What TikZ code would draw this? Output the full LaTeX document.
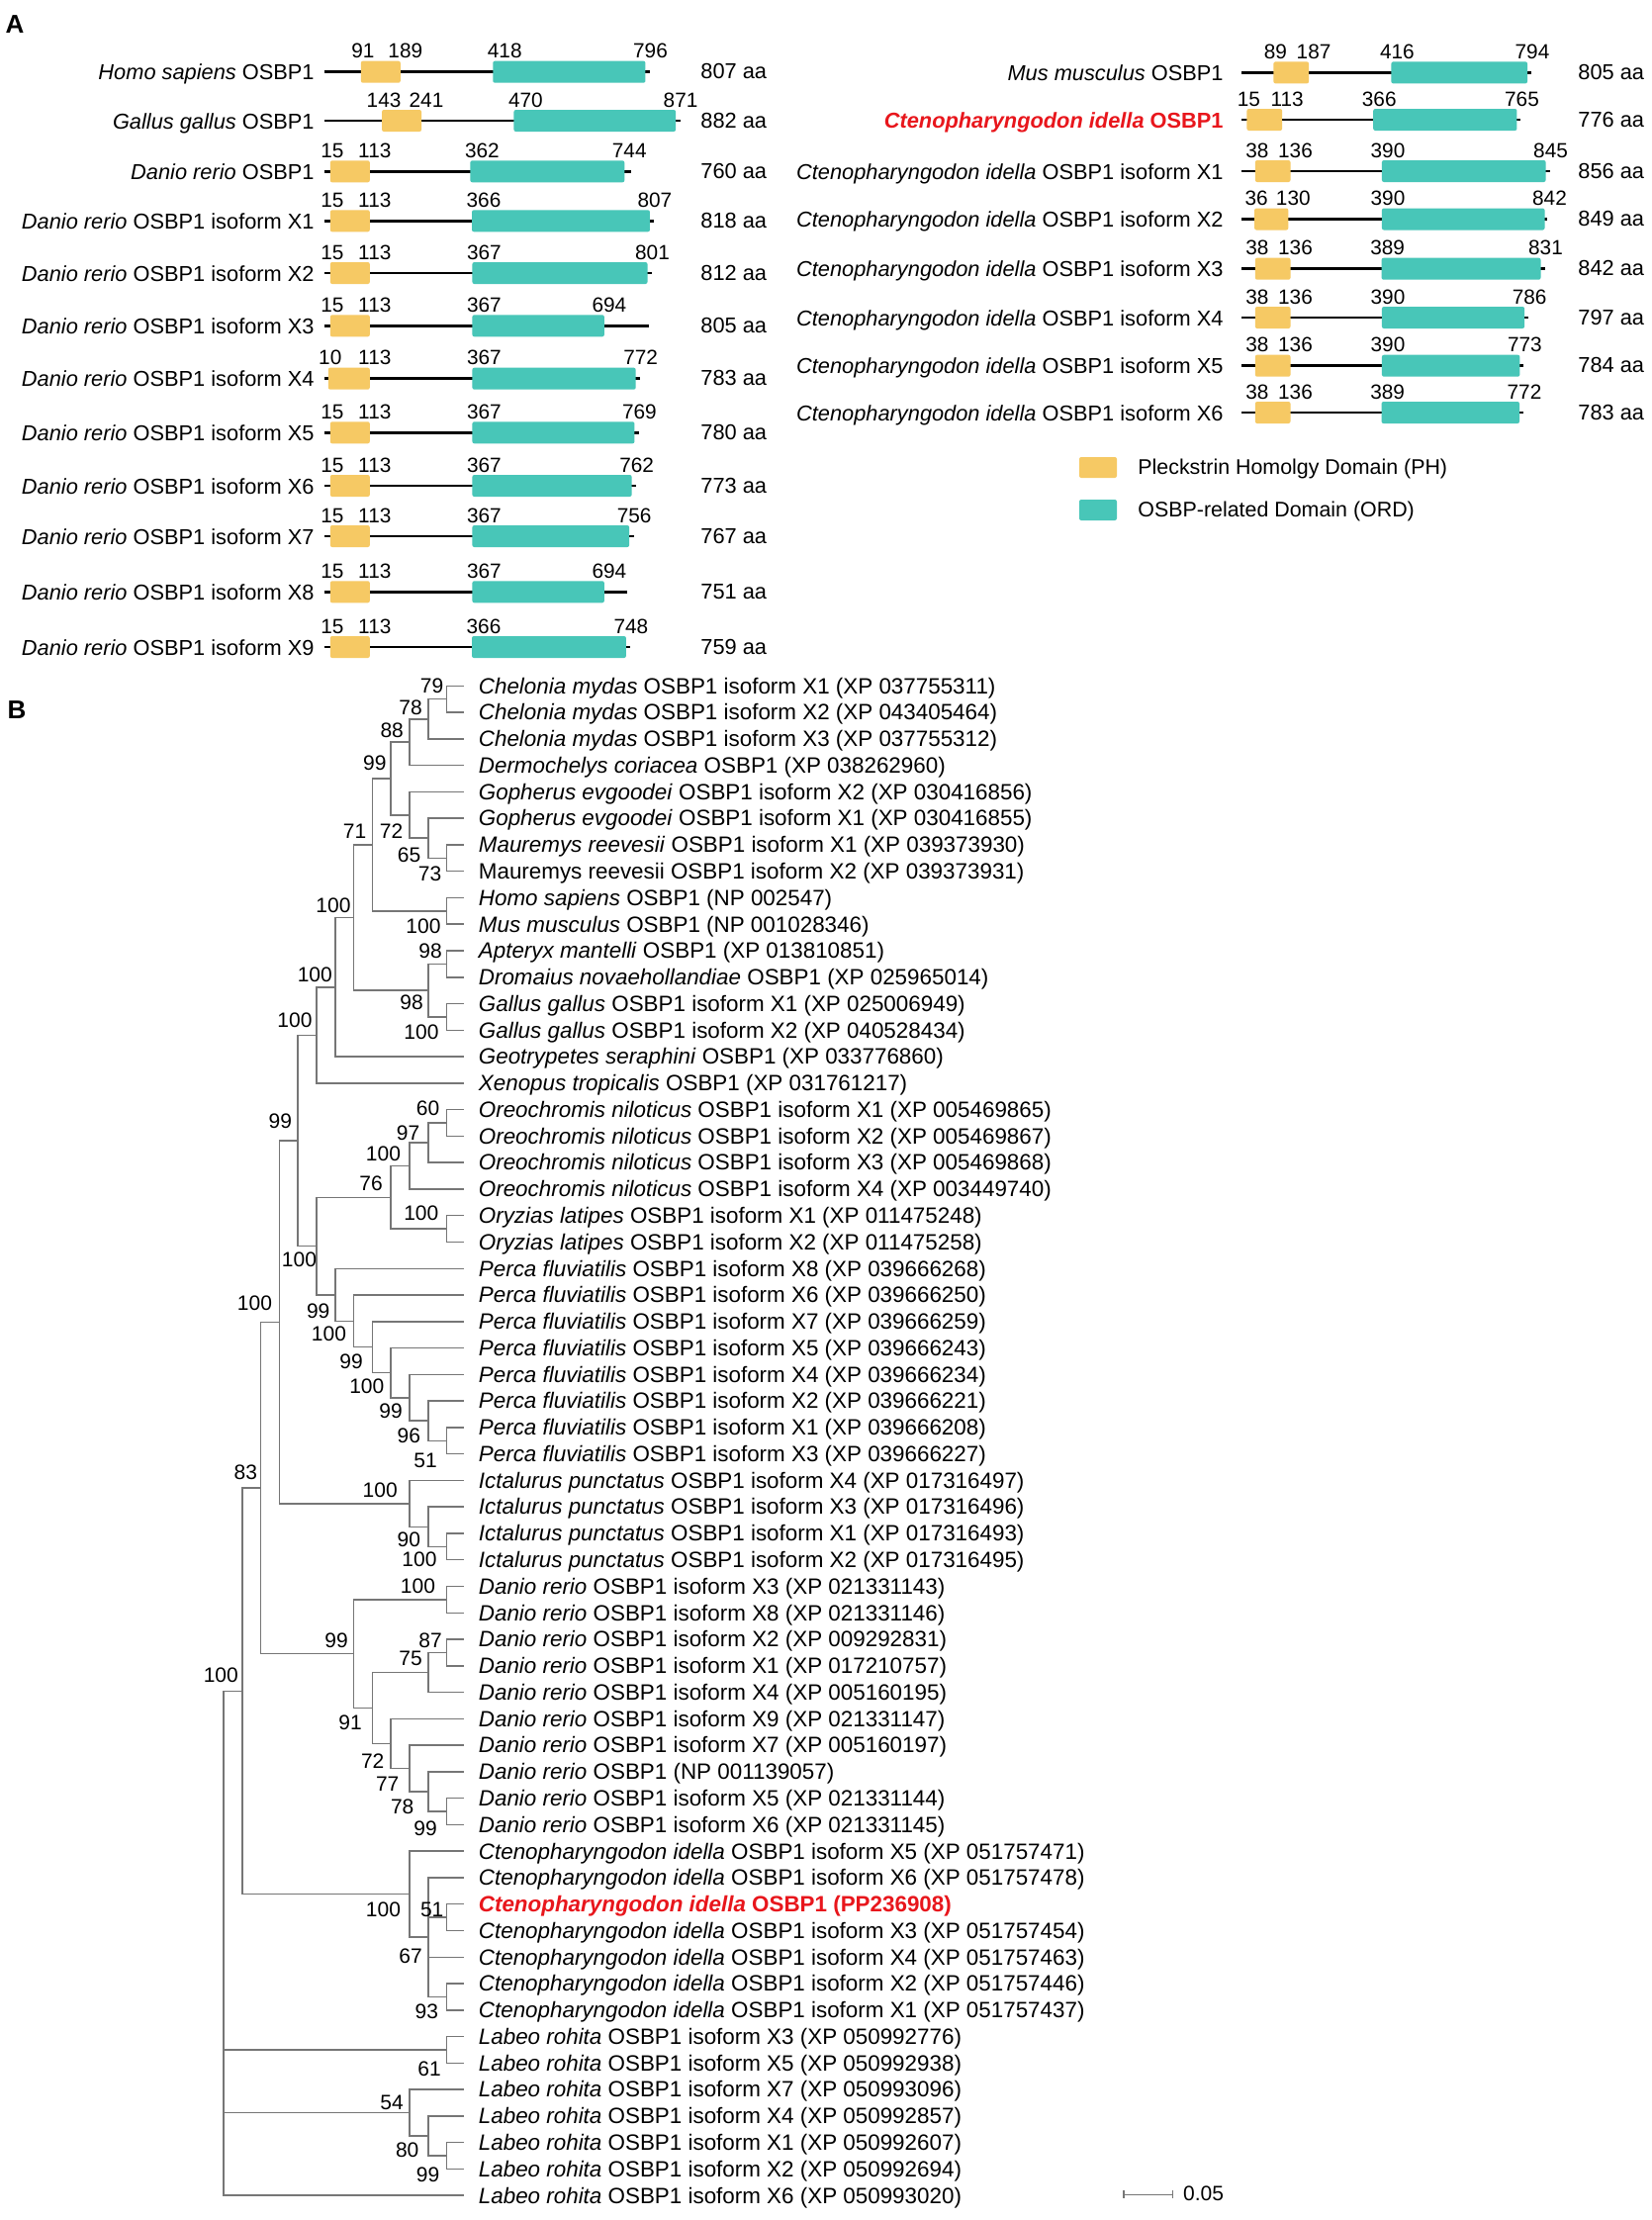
\documentclass[tikz,border=0pt]{standalone}
\usepackage{fontspec}
\setmainfont{Liberation Sans}
\usetikzlibrary{calc}
\definecolor{phc}{RGB}{246,201,100}
\definecolor{ordc}{RGB}{72,198,184}
\definecolor{hl}{RGB}{232,22,28}
\definecolor{brc}{RGB}{118,118,118}
\tikzset{
 prot/.style={line width=1.3pt, black},
 phbox/.style={fill=phc, rounded corners=1pt, minimum height=11pt, inner sep=0pt, outer sep=0pt},
 ordbox/.style={fill=ordc, rounded corners=1pt, minimum height=11pt, inner sep=0pt, outer sep=0pt},
 num/.style={font=\fontsize{10.4}{12}\selectfont, anchor=base, inner sep=0pt},
 alen/.style={font=\fontsize{10.9}{13}\selectfont, anchor=base west, inner sep=0pt},
 aname/.style={font=\fontsize{10.9}{13}\selectfont, anchor=base east, inner sep=0pt},
 br/.style={draw=brc, line width=0.75pt},
 leaf/.style={font=\fontsize{11.2}{13}\selectfont, anchor=base west, inner sep=0pt},
 bs/.style={font=\fontsize{10.5}{12}\selectfont, inner sep=0pt},
 panel/.style={font=\fontsize{13}{15}\selectfont\bfseries, inner sep=0pt},
 legtxt/.style={font=\fontsize{10.7}{13}\selectfont, anchor=base west, inner sep=0pt},
}
% domain row: id, y, ph1, ph2, ord1, ord2, len, name
\newcommand\drow[8]{%
 \pgfmathsetmacro\dXa{\colxo+#3*\colsc}%
 \pgfmathsetmacro\dXb{\colxo+#4*\colsc}%
 \pgfmathsetmacro\dXc{\colxo+#5*\colsc}%
 \pgfmathsetmacro\dXd{\colxo+#6*\colsc}%
 \pgfmathsetmacro\dXe{\colxo+#7*\colsc}%
 \pgfmathsetmacro\dWa{(\dXb-\dXa)*0.5}%
 \pgfmathsetmacro\dWb{(\dXd-\dXc)*0.5}%
 \coordinate (#1s) at (\colxo,#2);
 \coordinate (#1e) at (\dXe,#2);
 \draw[prot] (#1s) -- (#1e);
 \node[phbox, minimum width=\dWa pt] (#1ph) at ({(\dXa+\dXb)/2},#2) {};
 \node[ordbox, minimum width=\dWb pt] (#1ord) at ({(\dXc+\dXd)/2},#2) {};
 \node[num] (#1na) at (\dXa+2,#2-14) {#3};
 \node[num] (#1nb) at (\dXb+5,#2-14) {#4};
 \node[num] (#1nc) at (\dXc+\colos,#2-14) {#5};
 \node[num] (#1nd) at (\dXd+5,#2-14) {#6};
 \node[alen] (#1len) at (\collx,#2+7) {#7 aa};
 \node[aname] (#1nm) at (\colnx,#2+8) {#8};
}
% tree node: name, level, first child, last child
\newcommand\tnode[4]{%
 \path (#3) -- (#4) coordinate[pos=.5] (m#1);
 \coordinate (#1) at (m#1 -| X#2);
 \draw[br] (#3) -| (#1) |- (#4);
}
\begin{document}
\begin{tikzpicture}[x=0.5pt,y=-0.5pt]
\useasboundingbox (0,0) rectangle (1670,2244);
\fill[white] (0,0) rectangle (1670,2244);
\node[panel] (pA) at (15,25) {A};
\node[panel] (pB) at (17,718) {B};
% ---- left column
\def\colxo{327.7}\def\colsc{0.408}\def\colos{12}\def\collx{708}\def\colnx{318}
\drow{a1}{72.7}{91}{189}{418}{796}{807}{\textit{Homo sapiens} OSBP1}
\drow{a2}{122}{143}{241}{470}{871}{882}{\textit{Gallus gallus} OSBP1}
\drow{a3}{173.3}{15}{113}{362}{744}{760}{\textit{Danio rerio} OSBP1}
\drow{a4}{223.3}{15}{113}{366}{807}{818}{\textit{Danio rerio} OSBP1 isoform X1}
\drow{a5}{276}{15}{113}{367}{801}{812}{\textit{Danio rerio} OSBP1 isoform X2}
\drow{a6}{329.3}{15}{113}{367}{694}{805}{\textit{Danio rerio} OSBP1 isoform X3}
\drow{a7}{382.7}{10}{113}{367}{772}{783}{\textit{Danio rerio} OSBP1 isoform X4}
\drow{a8}{437.3}{15}{113}{367}{769}{780}{\textit{Danio rerio} OSBP1 isoform X5}
\drow{a9}{491}{15}{113}{367}{762}{773}{\textit{Danio rerio} OSBP1 isoform X6}
\drow{a10}{542}{15}{113}{367}{756}{767}{\textit{Danio rerio} OSBP1 isoform X7}
\drow{a11}{598.3}{15}{113}{367}{694}{751}{\textit{Danio rerio} OSBP1 isoform X8}
\drow{a12}{654}{15}{113}{366}{748}{759}{\textit{Danio rerio} OSBP1 isoform X9}
% ---- right column
\def\colxo{1255}\def\colsc{0.364}\def\colos{6}\def\collx{1595}\def\colnx{1237}
\drow{r1}{73.4}{89}{187}{416}{794}{805}{\textit{Mus musculus} OSBP1}
\drow{r2}{121}{15}{113}{366}{765}{776}{\textcolor{hl}{\bfseries\textit{Ctenopharyngodon idella} OSBP1}}
\drow{r3}{173}{38}{136}{390}{845}{856}{\textit{Ctenopharyngodon idella} OSBP1 isoform X1}
\drow{r4}{221.5}{36}{130}{390}{842}{849}{\textit{Ctenopharyngodon idella} OSBP1 isoform X2}
\drow{r5}{271.7}{38}{136}{389}{831}{842}{\textit{Ctenopharyngodon idella} OSBP1 isoform X3}
\drow{r6}{321}{38}{136}{390}{786}{797}{\textit{Ctenopharyngodon idella} OSBP1 isoform X4}
\drow{r7}{369.7}{38}{136}{390}{773}{784}{\textit{Ctenopharyngodon idella} OSBP1 isoform X5}
\drow{r8}{417}{38}{136}{389}{772}{783}{\textit{Ctenopharyngodon idella} OSBP1 isoform X6}
% legend
\node[phbox, minimum width=19pt, minimum height=10.5pt] (legph) at (1110,472.5) {};
\node[legtxt] (legpht) at (1150,479) {Pleckstrin Homolgy Domain (PH)};
\node[ordbox, minimum width=19pt, minimum height=10.5pt] (legord) at (1110,515.5) {};
\node[legtxt] (legordt) at (1150,522) {OSBP-related Domain (ORD)};
% ---- tree
\foreach \k in {0,...,12} {\coordinate (X\k) at ({226+18.8*\k},0);}
\foreach \i in {1,...,58} {\coordinate (L\i) at (469,{693.3+(\i-1)*26.77});}
\tnode{n79}{12}{L1}{L2}
\tnode{n78}{11}{n79}{L3}
\tnode{n88}{10}{n78}{L4}
\tnode{n73}{12}{L7}{L8}
\tnode{n65}{11}{L6}{n73}
\tnode{n72}{10}{L5}{n65}
\tnode{n99a}{9}{n88}{n72}
\tnode{nMam}{12}{L9}{L10}
\tnode{n71}{8}{n99a}{nMam}
\tnode{nAD}{12}{L11}{L12}
\tnode{nGg}{12}{L13}{L14}
\tnode{nBird}{11}{nAD}{nGg}
\tnode{n358}{7}{n71}{nBird}
\tnode{nG}{6}{n358}{L15}
\tnode{nX}{5}{nG}{L16}
\tnode{o60}{12}{L17}{L18}
\tnode{o97}{11}{o60}{L19}
\tnode{o100}{10}{o97}{L20}
\tnode{oOry}{12}{L21}{L22}
\tnode{n76}{9}{o100}{oOry}
\tnode{p51}{12}{L29}{L30}
\tnode{p96}{11}{L28}{p51}
\tnode{p99}{10}{L27}{p96}
\tnode{p100}{9}{L26}{p99}
\tnode{p99b}{8}{L25}{p100}
\tnode{p100b}{7}{L24}{p99b}
\tnode{p99c}{6}{L23}{p100b}
\tnode{f100}{5}{n76}{p99c}
\tnode{n99}{4}{nX}{f100}
\tnode{i100}{12}{L33}{L34}
\tnode{i90}{11}{L32}{i100}
\tnode{i100b}{10}{L31}{i90}
\tnode{nA}{3}{n99}{i100b}
\tnode{d100}{12}{L35}{L36}
\tnode{d87}{12}{L37}{L38}
\tnode{d75}{11}{d87}{L39}
\tnode{d99b}{12}{L43}{L44}
\tnode{d78}{11}{L42}{d99b}
\tnode{d77}{10}{L41}{d78}
\tnode{d72}{9}{L40}{d77}
\tnode{d91}{8}{d75}{d72}
\tnode{d99}{7}{d100}{d91}
\tnode{n83}{2}{nA}{d99}
\tnode{c51}{12}{L47}{L48}
\tnode{c93}{12}{L50}{L51}
\tnode{c67}{11}{L46}{c93}
\draw[br] (c51) -| (c67);
\draw[br] (L49) -| (c67);
\tnode{c100}{10}{L45}{c67}
\tnode{nR1}{1}{n83}{c100}
\tnode{l61}{12}{L52}{L53}
\tnode{l99}{12}{L56}{L57}
\tnode{l80}{11}{L55}{l99}
\tnode{l54}{10}{L54}{l80}
\tnode{root}{0}{nR1}{L58}
\draw[br] (l61) -| (root);
\draw[br] (l54) -| (root);
% leaf labels
\foreach \li/\lsp/\lrt in {
1/Chelonia mydas/OSBP1 isoform X1 (XP 037755311),
2/Chelonia mydas/OSBP1 isoform X2 (XP 043405464),
3/Chelonia mydas/OSBP1 isoform X3 (XP 037755312),
4/Dermochelys coriacea/OSBP1 (XP 038262960),
5/Gopherus evgoodei/OSBP1 isoform X2 (XP 030416856),
6/Gopherus evgoodei/OSBP1 isoform X1 (XP 030416855),
7/Mauremys reevesii/OSBP1 isoform X1 (XP 039373930),
8/\upshape Mauremys reevesii/OSBP1 isoform X2 (XP 039373931),
9/Homo sapiens/OSBP1 (NP 002547),
10/Mus musculus/OSBP1 (NP 001028346),
11/Apteryx mantelli/OSBP1 (XP 013810851),
12/Dromaius novaehollandiae/OSBP1 (XP 025965014),
13/Gallus gallus/OSBP1 isoform X1 (XP 025006949),
14/Gallus gallus/OSBP1 isoform X2 (XP 040528434),
15/Geotrypetes seraphini/OSBP1 (XP 033776860),
16/Xenopus tropicalis/OSBP1 (XP 031761217),
17/Oreochromis niloticus/OSBP1 isoform X1 (XP 005469865),
18/Oreochromis niloticus/OSBP1 isoform X2 (XP 005469867),
19/Oreochromis niloticus/OSBP1 isoform X3 (XP 005469868),
20/Oreochromis niloticus/OSBP1 isoform X4 (XP 003449740),
21/Oryzias latipes/OSBP1 isoform X1 (XP 011475248),
22/Oryzias latipes/OSBP1 isoform X2 (XP 011475258),
23/Perca fluviatilis/OSBP1 isoform X8 (XP 039666268),
24/Perca fluviatilis/OSBP1 isoform X6 (XP 039666250),
25/Perca fluviatilis/OSBP1 isoform X7 (XP 039666259),
26/Perca fluviatilis/OSBP1 isoform X5 (XP 039666243),
27/Perca fluviatilis/OSBP1 isoform X4 (XP 039666234),
28/Perca fluviatilis/OSBP1 isoform X2 (XP 039666221),
29/Perca fluviatilis/OSBP1 isoform X1 (XP 039666208),
30/Perca fluviatilis/OSBP1 isoform X3 (XP 039666227),
31/Ictalurus punctatus/OSBP1 isoform X4 (XP 017316497),
32/Ictalurus punctatus/OSBP1 isoform X3 (XP 017316496),
33/Ictalurus punctatus/OSBP1 isoform X1 (XP 017316493),
34/Ictalurus punctatus/OSBP1 isoform X2 (XP 017316495),
35/Danio rerio/OSBP1 isoform X3 (XP 021331143),
36/Danio rerio/OSBP1 isoform X8 (XP 021331146),
37/Danio rerio/OSBP1 isoform X2 (XP 009292831),
38/Danio rerio/OSBP1 isoform X1 (XP 017210757),
39/Danio rerio/OSBP1 isoform X4 (XP 005160195),
40/Danio rerio/OSBP1 isoform X9 (XP 021331147),
41/Danio rerio/OSBP1 isoform X7 (XP 005160197),
42/Danio rerio/OSBP1 (NP 001139057),
43/Danio rerio/OSBP1 isoform X5 (XP 021331144),
44/Danio rerio/OSBP1 isoform X6 (XP 021331145),
45/Ctenopharyngodon idella/OSBP1 isoform X5 (XP 051757471),
46/Ctenopharyngodon idella/OSBP1 isoform X6 (XP 051757478),
48/Ctenopharyngodon idella/OSBP1 isoform X3 (XP 051757454),
49/Ctenopharyngodon idella/OSBP1 isoform X4 (XP 051757463),
50/Ctenopharyngodon idella/OSBP1 isoform X2 (XP 051757446),
51/Ctenopharyngodon idella/OSBP1 isoform X1 (XP 051757437),
52/Labeo rohita/OSBP1 isoform X3 (XP 050992776),
53/Labeo rohita/OSBP1 isoform X5 (XP 050992938),
54/Labeo rohita/OSBP1 isoform X7 (XP 050993096),
55/Labeo rohita/OSBP1 isoform X4 (XP 050992857),
56/Labeo rohita/OSBP1 isoform X1 (XP 050992607),
57/Labeo rohita/OSBP1 isoform X2 (XP 050992694),
58/Labeo rohita/OSBP1 isoform X6 (XP 050993020)}
{\node[leaf] (T\li) at ($(L\li)+(14.5,7.8)$) {\textit{\lsp} \lrt};}
\node[leaf, text=hl, font=\fontsize{11.2}{13}\selectfont\bfseries] (T47) at ($(L47)+(14.5,7.8)$) {\textit{Ctenopharyngodon idella} OSBP1 (PP236908)};
% bootstrap values
\foreach \bn/\bx/\by/\bt in {
b01/436.6/693.3/79, b02/415/715/78, b03/396.2/738.3/88, b04/378.8/771.7/99,
b05/358.6/840/71, b06/395.6/840/72, b07/413.5/864/65, b08/434.6/883.3/73,
b09/428/936.7/100, b10/435/960.8/98, b11/337/915.5/100, b12/318.3/985/100,
b13/416/1013.3/98, b14/426/1043.3/100, b15/298/1030.8/100, b16/283.3/1133/99,
b17/432.5/1120/60, b18/412.5/1145/97, b19/387.5/1166.7/100, b20/375/1195.8/76,
b21/425.8/1226.7/100, b22/302.5/1273.3/100, b23/321.7/1325/99, b24/332.5/1348.3/100,
b25/355/1376/99, b26/370.8/1400.8/100, b27/395/1426.7/99, b28/413.3/1451.7/96,
b29/430/1476.7/51, b30/257.5/1317.5/100, b31/248.3/1488.3/83, b32/384.2/1506.7/100,
b33/413.3/1556.7/90, b34/424/1576.7/100, b35/422.5/1603.5/100, b36/340/1658.3/99,
b37/435/1658.3/87, b38/415/1676.7/75, b39/354/1741.7/91, b40/376.7/1780/72,
b41/391.7/1803.3/77, b42/406.7/1826.7/78, b43/430/1848.3/99, b44/223.3/1693.3/100,
b45/387.5/1930/100, b46/436.7/1930/51, b47/415/1977.5/67, b48/431.3/2033.3/93,
b49/434/2091.7/61, b50/396/2125/54, b51/411.7/2173.3/80, b52/432.5/2198/99}
{\node[bs] (\bn) at (\bx,\by) {\bt};}
% scale bar
\coordinate (sb1) at (1136,2218.3);
\coordinate (sb2) at (1185.3,2218.3);
\draw[br] (sb1) -- (sb2);
\draw[br] ($(sb1)+(0,-4)$) -- ($(sb1)+(0,4)$);
\draw[br] ($(sb2)+(0,-4)$) -- ($(sb2)+(0,4)$);
\node[bs] (sbl) at (1216.5,2217) {0.05};
\end{tikzpicture}
\end{document}
